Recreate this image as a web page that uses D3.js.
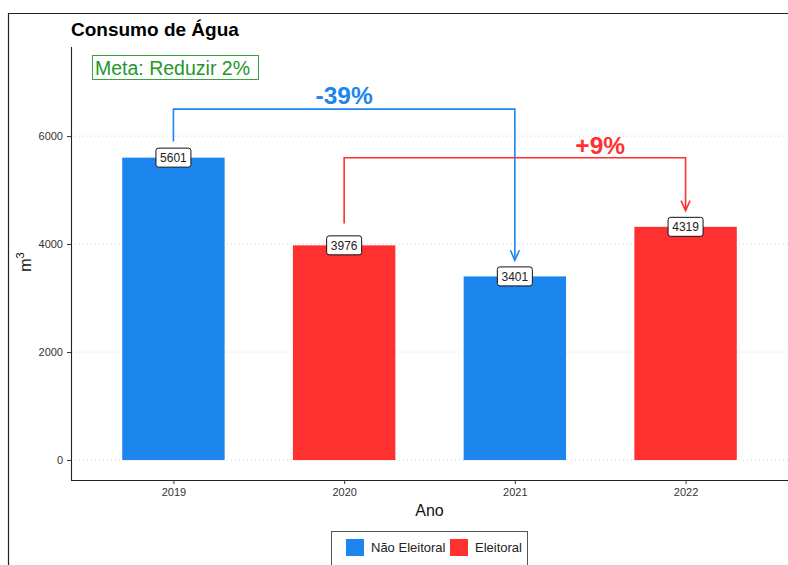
<!DOCTYPE html>
<html>
<head>
<meta charset="utf-8">
<script src="https://cdn.jsdelivr.net/npm/d3@7"></script>
<style>
  body { margin: 0; background: #fff; }
  svg { display: block; font-family: "Liberation Sans", Arial, sans-serif; }
</style>
</head>
<body>
<svg id="chart" width="788" height="565"></svg>
<script>
// dados
var anos = ["2019", "2020", "2021", "2022"];
var consumo = [5601, 3976, 3401, 4319];
var tipo = ["Não Eleitoral", "Eleitoral", "Não Eleitoral", "Eleitoral"];
var yTicks = [0, 2000, 4000, 6000];
var legendaTipos = ["Não Eleitoral", "Eleitoral"];

// comparações (setas)
var setaDe = ["2019", "2020"];
var setaPara = ["2021", "2022"];
var setaInicio = [5900, 4380];
var setaTopo = [6500, 5600];
var setaFim = [3700, 4620];
var setaTexto = ["-39%", "+9%"];
var setaTextoPos = [1, 2.5];     // posição em índices de categoria
var setaTextoY = [6760, 5840];
var setaTipo = ["Não Eleitoral", "Eleitoral"];

var cores = {"Não Eleitoral": "#1C86EE", "Eleitoral": "#FF3030"};

var svg = d3.select("#chart");
var W = 788, H = 565;
var pLeft = 71, pRight = 788, pTop = 47, pBottom = 480;

// moldura do print
svg.append("path").attr("d", "M8.5," + H + " V13.5 H" + W)
    .attr("fill", "none").attr("stroke", "#222").attr("stroke-width", 1.2);

var x = d3.scalePoint().domain(anos).range([pLeft, pRight]).padding(0.6);
var step = x.step();
var barW = step * 0.6;
var y = d3.scaleLinear().domain([-370, 7650]).range([pBottom, pTop]);

// grade
svg.append("g").selectAll("line").data(yTicks).enter().append("line")
    .attr("x1", pLeft).attr("x2", pRight)
    .attr("y1", function(d){ return y(d); }).attr("y2", function(d){ return y(d); })
    .attr("stroke", "#c8c8c8").attr("stroke-width", 0.8).attr("stroke-dasharray", "1,3");

// barras
svg.append("g").selectAll("rect").data(anos).enter().append("rect")
    .attr("x", function(d){ return x(d) - barW / 2; })
    .attr("width", barW)
    .attr("y", function(d, i){ return y(consumo[i]); })
    .attr("height", function(d, i){ return y(0) - y(consumo[i]); })
    .attr("fill", function(d, i){ return cores[tipo[i]]; });

// eixos
var yAxis = svg.append("g").attr("transform", "translate(" + pLeft + ",0)")
    .call(d3.axisLeft(y).tickValues(yTicks).tickFormat(d3.format("d")).tickSize(4).tickPadding(4));
var xAxis = svg.append("g").attr("transform", "translate(0," + pBottom + ")")
    .call(d3.axisBottom(x).tickSize(4).tickPadding(4));
[yAxis, xAxis].forEach(function(a){
    a.select(".domain").attr("stroke", "#222").attr("stroke-width", 1.1);
    a.selectAll(".tick line").attr("stroke", "#333");
    a.selectAll(".tick text").attr("fill", "#333").attr("font-size", 11)
        .attr("font-family", "Liberation Sans, Arial, sans-serif");
});
yAxis.select(".domain").attr("d", "M0.5," + pTop + "V" + pBottom);
xAxis.select(".domain").attr("d", "M" + pLeft + ",0.5H" + pRight);

// títulos dos eixos
svg.append("text").attr("x", (pLeft + pRight) / 2).attr("y", 516)
    .attr("text-anchor", "middle").attr("font-size", 16).attr("fill", "#111").text("Ano");
var yt = svg.append("text").attr("transform", "translate(31,262) rotate(-90)")
    .attr("text-anchor", "middle").attr("font-size", 16).attr("fill", "#111");
yt.append("tspan").text("m");
yt.append("tspan").attr("font-size", 11).attr("dy", -7).text("3");

// setas
var setas = svg.append("g");
setaDe.forEach(function(de, i){
    var x1 = x(de), x2 = x(setaPara[i]);
    var yEnd = y(setaFim[i]);
    var cor = cores[setaTipo[i]];
    setas.append("path")
        .attr("d", "M" + x1 + "," + y(setaInicio[i]) + "V" + y(setaTopo[i]) + "H" + x2 + "V" + yEnd)
        .attr("fill", "none").attr("stroke", cor).attr("stroke-width", 1.6);
    setas.append("path")
        .attr("d", "M" + (x2 - 4.5) + "," + (yEnd - 10) + "L" + x2 + "," + yEnd + "L" + (x2 + 4.5) + "," + (yEnd - 10))
        .attr("fill", "none").attr("stroke", cor).attr("stroke-width", 1.6);
    setas.append("text")
        .attr("x", x(anos[0]) + step * setaTextoPos[i])
        .attr("y", y(setaTextoY[i]))
        .attr("dy", "0.36em")
        .attr("text-anchor", "middle").attr("font-size", 24.5)
        .attr("font-weight", "bold")
        .attr("fill", cor).text(setaTexto[i]);
});

// rótulos dos valores
var rot = svg.append("g").selectAll("g").data(anos).enter().append("g")
    .attr("transform", function(d, i){ return "translate(" + x(d) + "," + y(consumo[i]) + ")"; });
rot.append("rect").attr("x", -17.5).attr("y", -9.5).attr("width", 35).attr("height", 19)
    .attr("rx", 2.5).attr("fill", "#fff").attr("stroke", "#111").attr("stroke-width", 1);
rot.append("text").attr("text-anchor", "middle").attr("dy", "0.36em")
    .attr("font-size", 12).attr("fill", "#222")
    .text(function(d, i){ return consumo[i]; });

// título
svg.append("text").attr("x", 71).attr("y", 36).attr("font-size", 19)
    .attr("font-weight", "bold").attr("fill", "#000").text("Consumo de Água");

// meta
var meta = svg.append("g");
meta.append("rect").attr("x", 92.5).attr("y", 55.5).attr("width", 166).attr("height", 24)
    .attr("fill", "#fff").attr("stroke", "#3aa23a").attr("stroke-width", 1);
meta.append("text").attr("x", 95).attr("y", 68).attr("dy", "0.36em")
    .attr("font-size", 19.5).attr("fill", "#24962a")
    .text("Meta: Reduzir 2%");

// legenda
var leg = svg.append("g");
leg.append("rect").attr("x", 331.5).attr("y", 531.5).attr("width", 196).attr("height", 40)
    .attr("fill", "#fff").attr("stroke", "#555").attr("stroke-width", 1);
var legX = [346, 450];
legendaTipos.forEach(function(t, i){
    leg.append("rect").attr("x", legX[i]).attr("y", 539).attr("width", 18).attr("height", 17)
        .attr("fill", cores[t]);
    leg.append("text").attr("x", legX[i] + 25).attr("y", 547.5).attr("dy", "0.36em")
        .attr("font-size", 13).attr("fill", "#222").text(t);
});
</script>
</body>
</html>
